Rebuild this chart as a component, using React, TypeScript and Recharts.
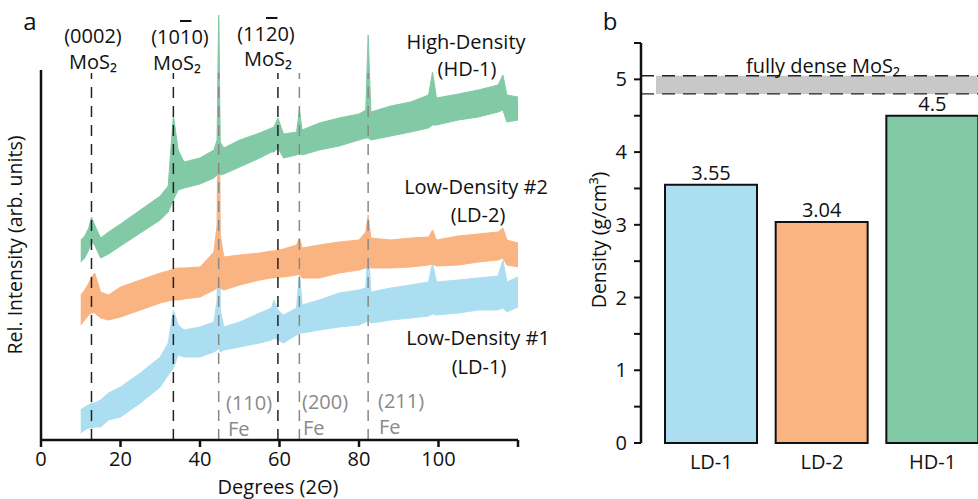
import React from 'react';
import {
  ComposedChart, Area, XAxis, YAxis, ReferenceLine, BarChart, Bar, Cell,
  LabelList, ReferenceArea,
} from 'recharts';

const FONT = '"Open Sans", "Noto Sans", sans-serif';
const FS = 20;
const TICK_FS = 20;

// Panel a: XRD patterns (degrees 2θ, band low/high in arb. units)
const DEG = [10, 11, 12, 12.7, 13.5, 15, 17, 20, 25, 30, 32, 33.3, 34.5, 36, 40, 43.5, 44.3, 44.7, 45.1, 46, 50, 55, 58, 58.6, 59.6, 61, 64.3, 65, 65.7, 70, 75, 80, 81.7, 82.3, 83, 88, 93, 97.5, 98.5, 99.5, 105, 110, 115, 116.2, 117.2, 120];
const HD_LO = [178, 182, 190, 198, 195, 182, 186, 194, 207, 220, 228, 240, 250, 252, 256, 262, 265, 268, 265, 266, 273, 282, 288, 288, 292, 282, 285, 287, 285, 290, 294, 300, 302, 302, 300, 304, 308, 312, 315, 315, 320, 323, 328, 330, 318, 320];
const HD_HI = [200, 204, 212, 223, 215, 202, 208, 216, 230, 244, 254, 325, 290, 278, 282, 290, 300, 425, 298, 292, 300, 307, 312, 313, 322, 306, 308, 330, 310, 317, 322, 326, 330, 405, 328, 334, 338, 345, 368, 342, 346, 350, 355, 365, 345, 343];
const LD2_LO = [115, 120, 125, 127, 127, 122, 120, 123, 130, 137, 139, 140, 140, 141, 143, 150, 152, 155, 152, 150, 155, 160, 162, 162, 163, 163, 165, 166, 162, 162, 167, 170, 172, 174, 172, 172, 173, 175, 176, 174, 175, 178, 180, 182, 175, 173];
const LD2_HI = [145, 150, 157, 163, 167, 148, 145, 153, 160, 167, 169, 171, 172, 172, 173, 188, 215, 420, 205, 183, 185, 187, 189, 189, 190, 191, 195, 202, 192, 195, 198, 200, 208, 225, 202, 200, 202, 203, 210, 200, 204, 206, 208, 212, 200, 197];
const LD1_LO = [7, 10, 12, 12, 13, 13, 20, 23, 37, 53, 65, 72, 85, 83, 83, 88, 90, 92, 88, 90, 93, 97, 100, 102, 100, 97, 105, 107, 107, 110, 113, 115, 118, 120, 117, 120, 122, 124, 126, 125, 127, 130, 130, 132, 128, 133];
const LD1_HI = [30, 33, 35, 37, 37, 40, 47, 53, 67, 83, 97, 130, 115, 110, 113, 118, 140, 410, 130, 113, 118, 127, 132, 140, 130, 125, 132, 167, 135, 140, 147, 150, 152, 197, 148, 152, 155, 158, 177, 158, 160, 162, 164, 180, 158, 163];
const MOS2_PEAKS = [12.7, 33.3, 59.6];
const FE_PEAKS = [44.7, 65, 82.3];
const XRD_TICKS = [0, 20, 40, 60, 80, 100, 120];

// Panel b: densities
const SAMPLES = ['LD-1', 'LD-2', 'HD-1'];
const DENSITY = [3.55, 3.04, 4.5];
const BAR_COLORS = ['#ACDEF1', '#FAB482', '#82CAA5'];
const DENSE_LOW = 4.8;
const DENSE_HIGH = 5.05;
const DENSITY_TICKS = [0, 0.5, 1, 1.5, 2, 2.5, 3, 3.5, 4, 4.5, 5, 5.5];

const GREEN = '#82CAA5';
const ORANGE = '#FAB482';
const BLUE = '#ACDEF1';

const xrdData = DEG.map((x, i) => ({
  x,
  hd: [HD_LO[i], HD_HI[i]],
  ld2: [LD2_LO[i], LD2_HI[i]],
  ld1: [LD1_LO[i], LD1_HI[i]],
}));

const barData = SAMPLES.map((s, i) => ({ name: s, density: DENSITY[i] }));

const T = (props: any) => (
  <text fontFamily={FONT} fontSize={FS} fill="#111" textAnchor="middle" dominantBaseline="central" {...props} />
);

export default function App() {
  return (
    <div style={{ position: 'absolute', left: 0, top: 0, width: 978, height: 499, overflow: 'hidden', background: '#fff' }}>
      <div style={{ position: 'absolute', left: 0, top: 0 }}>
        <ComposedChart width={560} height={499} data={xrdData} margin={{ top: 15, right: 42, bottom: 29, left: 41 }}>
          <XAxis
            dataKey="x" type="number" domain={[0, 120]} ticks={XRD_TICKS}
            tickFormatter={(v: number) => (v === 120 ? '' : String(v))}
            axisLine={{ stroke: '#111', strokeWidth: 2.5 }}
            tickLine={{ stroke: '#111', strokeWidth: 2.5 }} tickSize={7} tickMargin={5}
            height={30}
            tick={{ fontSize: TICK_FS, fill: '#111', fontFamily: FONT }}
          />
          <YAxis hide domain={[0, 425]} allowDataOverflow />
          <Area dataKey="ld1" type="linear" fill={BLUE} fillOpacity={1} stroke={BLUE} strokeWidth={1} isAnimationActive={false} />
          <Area dataKey="ld2" type="linear" fill={ORANGE} fillOpacity={1} stroke={ORANGE} strokeWidth={1} isAnimationActive={false} />
          <Area dataKey="hd" type="linear" fill={GREEN} fillOpacity={1} stroke={GREEN} strokeWidth={1} isAnimationActive={false} />
          {MOS2_PEAKS.map((p) => (
            <ReferenceLine key={'m' + p} segment={[{ x: p, y: 0 }, { x: p, y: 367 }]} stroke="#222" strokeWidth={1.5} strokeDasharray="11 8" />
          ))}
          {FE_PEAKS.map((p) => (
            <ReferenceLine key={'f' + p} segment={[{ x: p, y: 0 }, { x: p, y: 367 }]} stroke="#888" strokeWidth={1.5} strokeDasharray="11 8" />
          ))}
          <ReferenceLine segment={[{ x: 0, y: 0 }, { x: 0, y: 370 }]} stroke="#111" strokeWidth={2.5} />
        </ComposedChart>
      </div>

      <div style={{ position: 'absolute', left: 560, top: 0 }}>
        <BarChart width={428} height={499} data={barData} margin={{ top: 43, right: 0, bottom: 26, left: 21 }} barSize={92}>
          <XAxis dataKey="name" axisLine={false} tickLine={false} height={30} padding={{ left: 15, right: 0 }}
            tick={{ fontSize: TICK_FS, fill: '#111', fontFamily: FONT }} tickMargin={6} />
          <YAxis domain={[0, 5.5]} ticks={DENSITY_TICKS} width={60}
            tickFormatter={(v: number) => (Number.isInteger(v) ? String(v) : '')}
            axisLine={{ stroke: '#111', strokeWidth: 2.5 }}
            tickLine={{ stroke: '#111', strokeWidth: 2 }} tickSize={7} tickMargin={7}
            tick={{ fontSize: TICK_FS, fill: '#111', fontFamily: FONT }} interval={0} />
          <ReferenceArea y1={DENSE_LOW} y2={DENSE_HIGH} fill="#C8C8C8" fillOpacity={1} stroke="none" />
          <ReferenceLine y={DENSE_LOW} stroke="#222" strokeWidth={1.3} strokeDasharray="13 8" />
          <ReferenceLine y={DENSE_HIGH} stroke="#222" strokeWidth={1.3} strokeDasharray="13 8" />
          <Bar dataKey="density" stroke="#111" strokeWidth={2} isAnimationActive={false}>
            {barData.map((d, i) => (
              <Cell key={d.name} fill={BAR_COLORS[i]} />
            ))}
            <LabelList dataKey="density" position="top" offset={5} style={{ fontSize: TICK_FS, fill: '#111', fontFamily: FONT }} />
          </Bar>
        </BarChart>
      </div>

      <svg width={978} height={499} style={{ position: 'absolute', left: 0, top: 0, pointerEvents: 'none' }}>
        <T x={30} y={20} fontSize={24}>a</T>
        <T x={610} y={20} fontSize={24}>b</T>

        <T x={93} y={35}>(0002)</T>
        <T x={93} y={61}>MoS₂</T>
        <T x={180} y={36}>(10<tspan style={{ textDecoration: 'overline' }}>1</tspan>0)</T>
        <T x={177} y={62}>MoS₂</T>
        <T x={266} y={33}>(11<tspan style={{ textDecoration: 'overline' }}>2</tspan>0)</T>
        <T x={268} y={58}>MoS₂</T>

        <T x={466} y={41}>High-Density</T>
        <T x={467} y={68}>(HD-1)</T>
        <T x={476} y={186}>Low-Density #2</T>
        <T x={478} y={214}>(LD-2)</T>
        <T x={478} y={337}>Low-Density #1</T>
        <T x={479} y={366}>(LD-1)</T>

        <T x={226} y={402} textAnchor="start" fill="#8A8A8A">(110)</T>
        <T x={228} y={428} textAnchor="start" fill="#8A8A8A">Fe</T>
        <T x={302} y={401} textAnchor="start" fill="#8A8A8A">(200)</T>
        <T x={303} y={427} textAnchor="start" fill="#8A8A8A">Fe</T>
        <T x={378} y={400} textAnchor="start" fill="#8A8A8A">(211)</T>
        <T x={379} y={426} textAnchor="start" fill="#8A8A8A">Fe</T>

        <T x={14} y={245} fontSize={19.5} transform="rotate(-90 14 245)">Rel. Intensity (arb. units)</T>
        <T x={278} y={486} fontSize={20}>Degrees (2Θ)</T>

        <T x={823} y={65}>fully dense MoS₂</T>
        <T x={598} y={240} fontSize={19.5} transform="rotate(-90 598 240)">Density (g/cm³)</T>
      </svg>
    </div>
  );
}
